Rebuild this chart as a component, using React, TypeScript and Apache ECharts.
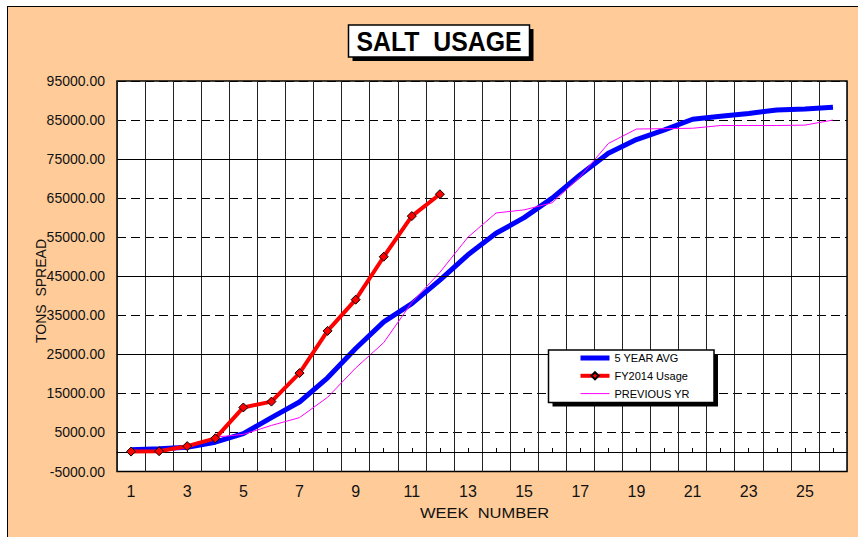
import React, { useEffect, useRef } from "react";
import * as echarts from "echarts";

const weeks = ["1", "2", "3", "4", "5", "6", "7", "8", "9", "10", "11", "12", "13", "14", "15", "16", "17", "18", "19", "20", "21", "22", "23", "24", "25", "26"];
const fiveYearAvg = [600, 800, 1200, 2500, 4700, 8800, 12800, 19000, 26500, 33300, 38000, 44000, 50500, 56000, 60000, 65000, 71000, 76500, 80000, 82500, 85200, 86000, 86700, 87600, 87800, 88300];
const fy2014Usage = [100, 200, 1500, 3500, 11400, 12900, 20200, 31000, 39000, 50000, 60400, 66000];
const previousYr = [300, 400, 900, 3800, 4500, 6800, 8800, 14000, 21500, 28000, 38300, 46000, 55000, 61200, 62000, 63800, 70500, 79000, 82700, 82800, 82900, 83600, 83600, 83600, 83700, 85000];
const yMin = -5000;
const yMax = 95000;
const yInterval = 10000;
const solidGridValues = [75000, 45000, 25000];

const FONT = "'Liberation Sans', Arial, sans-serif";

export default function App() {
  const ref = useRef<HTMLDivElement>(null);
  useEffect(() => {
    if (!ref.current) return;
    const chart = echarts.init(ref.current, null, { renderer: "svg" });
    const gridTop = 81;
    const gridBottom = 65.5;
    const gridHeight = 537 - gridTop - gridBottom;
    const zeroOffset = -(gridHeight * (0 - yMin)) / (yMax - yMin);
    chart.setOption({
      animation: false,
      backgroundColor: "transparent",
      textStyle: { fontFamily: FONT },
      grid: {
        left: 117,
        top: gridTop,
        right: 11,
        bottom: gridBottom,
        show: true,
        backgroundColor: "#ffffff",
        borderColor: "#000000",
        borderWidth: 1.5,
      },
      xAxis: [
        {
          type: "category",
          data: weeks,
          boundaryGap: true,
          position: "bottom",
          axisLine: { show: false, onZero: false },
          axisTick: { show: false },
          axisLabel: { interval: 1, margin: 12, fontSize: 16, color: "#111", fontFamily: FONT },
          splitLine: { show: true, interval: 0, lineStyle: { color: "#222", width: 1, type: "solid" } },
        },
        {
          type: "category",
          data: weeks,
          boundaryGap: true,
          position: "bottom",
          offset: zeroOffset,
          axisLine: { show: true, onZero: false, lineStyle: { color: "#000", width: 1.2 } },
          axisTick: { show: true, inside: true, length: 4, alignWithLabel: true, interval: 0, lineStyle: { color: "#000" } },
          axisLabel: { show: false },
          splitLine: { show: false },
        },
      ],
      yAxis: {
        type: "value",
        min: yMin,
        max: yMax,
        interval: yInterval,
        axisLine: { show: false },
        axisTick: { show: false },
        axisLabel: {
          margin: 12,
          fontSize: 14,
          color: "#111",
          fontFamily: FONT,
          formatter: (v: number) => v.toFixed(2),
        },
        splitLine: { show: true, lineStyle: { color: "#000", width: 1, type: [9, 5] } },
      },
      legend: {
        orient: "vertical",
        left: 578,
        top: 352.5,
        padding: 0,
        itemWidth: 29,
        itemHeight: 9,
        itemGap: 6.8,
        z: 10,
        data: [
          { name: "5 YEAR AVG", itemStyle: { color: "rgba(0,0,0,0)", borderWidth: 0 }, lineStyle: { width: 5, color: "#0000FF" } },
          { name: "FY2014 Usage", lineStyle: { width: 4, color: "#FF0000" } },
          { name: "PREVIOUS YR", itemStyle: { color: "rgba(0,0,0,0)", borderWidth: 0 }, lineStyle: { width: 1, color: "#FF00FF" } },
        ],
        textStyle: { fontSize: 11, color: "#000", fontFamily: FONT },
      },
      graphic: [
        { type: "rect", z: 8, silent: true, shape: { x: 552.5, y: 354, width: 165.5, height: 52.5 }, style: { fill: "#000" } },
        { type: "rect", z: 9, silent: true, shape: { x: 548.5, y: 350, width: 165.5, height: 52.5 }, style: { fill: "#fff", stroke: "#000", lineWidth: 1.5 } },
        { type: "rect", z: 8, silent: true, shape: { x: 352.5, y: 29, width: 181, height: 32 }, style: { fill: "#000" } },
        { type: "rect", z: 9, silent: true, shape: { x: 348.5, y: 25, width: 181, height: 32 }, style: { fill: "#fff", stroke: "#000", lineWidth: 1.5 } },
        {
          type: "text", z: 10, silent: true, x: 439, y: 41.5, scaleX: 0.92,
          style: { text: "SALT  USAGE", font: `bold 27px ${FONT}`, fill: "#000", textAlign: "center", textVerticalAlign: "middle" },
        },
        {
          type: "text", z: 10, silent: true, x: 41, y: 291, rotation: Math.PI / 2,
          style: { text: "TONS  SPREAD", font: `14px ${FONT}`, fill: "#111", textAlign: "center", textVerticalAlign: "middle" },
        },
        {
          type: "text", z: 10, silent: true, x: 484.5, y: 513, scaleX: 1.1,
          style: { text: "WEEK  NUMBER", font: `15px ${FONT}`, fill: "#111", textAlign: "center", textVerticalAlign: "middle" },
        },
      ],
      series: [
        {
          name: "5 YEAR AVG",
          type: "line",
          data: fiveYearAvg,
          symbol: "none",
          lineStyle: { color: "#0000FF", width: 5 },
          itemStyle: { color: "#0000FF" },
          z: 3,
          markLine: {
            silent: true,
            symbol: ["none", "none"],
            label: { show: false },
            lineStyle: { color: "#000", width: 1, type: "solid" },
            data: solidGridValues.map((v) => ({ yAxis: v })),
          },
        },
        {
          name: "PREVIOUS YR",
          type: "line",
          data: previousYr,
          symbol: "none",
          lineStyle: { color: "#FF00FF", width: 1 },
          itemStyle: { color: "#FF00FF" },
          z: 4,
        },
        {
          name: "FY2014 Usage",
          type: "line",
          data: fy2014Usage,
          symbol: "diamond",
          symbolSize: 9,
          lineStyle: { color: "#FF0000", width: 4 },
          itemStyle: { color: "#FF0000", borderColor: "#000", borderWidth: 1 },
          z: 5,
        },
      ],
    });
    return () => chart.dispose();
  }, []);

  return (
    <div style={{ position: "absolute", left: 0, top: 0, width: 858, height: 537, background: "#fff", overflow: "hidden" }}>
      <div
        style={{
          position: "absolute",
          left: 7,
          top: 6,
          width: 900,
          height: 600,
          background: "#FFCC99",
          borderLeft: "1px solid #000",
          borderTop: "1px solid #000",
        }}
      />
      <div ref={ref} style={{ position: "absolute", left: 0, top: 0, width: 858, height: 537 }} />
    </div>
  );
}
